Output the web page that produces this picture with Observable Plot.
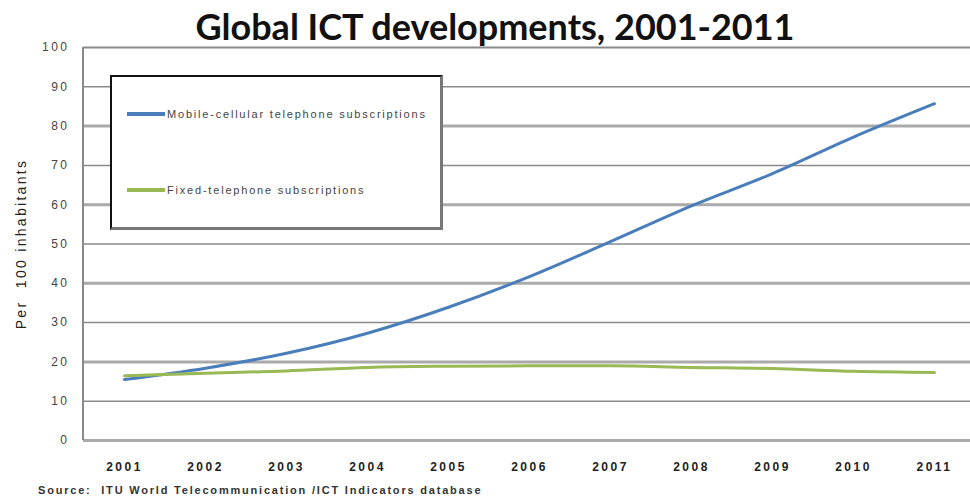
<!DOCTYPE html>
<html>
<head>
<meta charset="utf-8">
<script src="https://cdn.jsdelivr.net/npm/d3@7"></script>
<script src="https://cdn.jsdelivr.net/npm/@observablehq/plot@0.6"></script>
<style>
  html, body { margin: 0; padding: 0; background: #fff; }
  #wrap { position: relative; width: 970px; height: 500px; overflow: hidden; font-family: "Liberation Sans", Arial, sans-serif; }
  #title { position: absolute; left: 0; width: 990px; top: 4px; text-align: center; font-family: Lato, "Open Sans", sans-serif; font-weight: 700; font-size: 36px; color: #111; white-space: nowrap; }
  #legend { position: absolute; left: 110px; top: 75px; width: 328px; height: 150px; background: #fff; border-left: 2px solid #111; border-top: 2px solid #111; border-right: 3px solid #777; border-bottom: 3px solid #777; }
  .item { position: absolute; left: 15px; display: flex; align-items: center; font-size: 11px; letter-spacing: 1.8px; color: #444; white-space: nowrap; }
  .sw { width: 38px; height: 4px; margin-right: 2px; }
  #source { position: absolute; left: 38px; top: 484px; font-size: 11px; font-weight: bold; letter-spacing: 1.8px; color: #333; white-space: nowrap; }
  #ylabel { position: absolute; left: 21px; top: 244px; transform: translate(-50%, -50%) rotate(-90deg); font-size: 14px; letter-spacing: 2.3px; color: #222; white-space: nowrap; }
  svg text { letter-spacing: 2.5px; }
</style>
</head>
<body>
<div id="wrap">
  <div id="chart"></div>
  <div id="title">Global ICT developments, 2001-2011</div>
  <div id="ylabel">Per &nbsp;100 inhabitants</div>
  <div id="legend"></div>
  <div id="source">Source:&nbsp; ITU World Telecommunication /ICT Indicators database</div>
</div>
<script>
const years = [2001, 2002, 2003, 2004, 2005, 2006, 2007, 2008, 2009, 2010, 2011];
const mobile = [15.5, 18.4, 22.2, 27.3, 33.9, 41.7, 50.6, 59.7, 67.9, 77.2, 85.7];
const fixed = [16.5, 17.1, 17.7, 18.6, 18.9, 19.0, 19.0, 18.6, 18.3, 17.6, 17.3];
const seriesNames = ["Mobile-cellular telephone subscriptions", "Fixed-telephone subscriptions"];
const seriesColors = ["#4a7ebb", "#98b954"];
const yTicks = [0, 10, 20, 30, 40, 50, 60, 70, 80, 90, 100];
const thickGrid = [0, 20, 40, 60, 80];
const thinGrid = [10, 30, 50, 70, 90];

const rows = [];
years.forEach((y, i) => {
  rows.push({year: y, value: mobile[i], series: seriesNames[0]});
  rows.push({year: y, value: fixed[i], series: seriesNames[1]});
});

const chart = Plot.plot({
  width: 970,
  height: 500,
  marginTop: 47,
  marginBottom: 60,
  marginLeft: 83,
  marginRight: 0,
  style: {fontFamily: "Liberation Sans, Arial, sans-serif", background: "#fff"},
  x: {type: "point", domain: years, range: [123, 935], padding: 0},
  y: {domain: [0, 100]},
  color: {domain: seriesNames, range: seriesColors},
  marks: [
    Plot.ruleY(thickGrid, {stroke: "#aaa", strokeWidth: 3}),
    Plot.ruleY(thinGrid, {stroke: "#8a8a8a", strokeWidth: 1.5}),
    Plot.ruleY([100], {stroke: "#8a8a8a", strokeWidth: 2}),
    Plot.axisY({ticks: yTicks, tickSize: 0, tickPadding: 14, fontSize: 12, fill: "#444", label: null}),
    Plot.axisX({ticks: years, tickSize: 0, tickPadding: 22, fontSize: 12, fontWeight: "bold", fill: "#222", label: null, tickFormat: d => String(d)}),
    Plot.line(rows, {x: "year", y: "value", z: "series", stroke: "series", strokeWidth: 3, curve: "monotone-x"})
  ]
});
document.getElementById("chart").appendChild(chart);

const svg = d3.select(chart);
svg.append("line").attr("x1", 83).attr("x2", 83).attr("y1", 47).attr("y2", 440).attr("stroke", "#8a8a8a").attr("stroke-width", 2);

const legend = document.getElementById("legend");
seriesNames.forEach((name, i) => {
  const it = document.createElement("div");
  it.className = "item";
  it.style.top = (i === 0 ? 31 : 107) + "px";
  const sw = document.createElement("div");
  sw.className = "sw";
  sw.style.background = seriesColors[i];
  const tx = document.createElement("span");
  tx.textContent = name;
  it.appendChild(sw);
  it.appendChild(tx);
  legend.appendChild(it);
});
</script>
</body>
</html>
